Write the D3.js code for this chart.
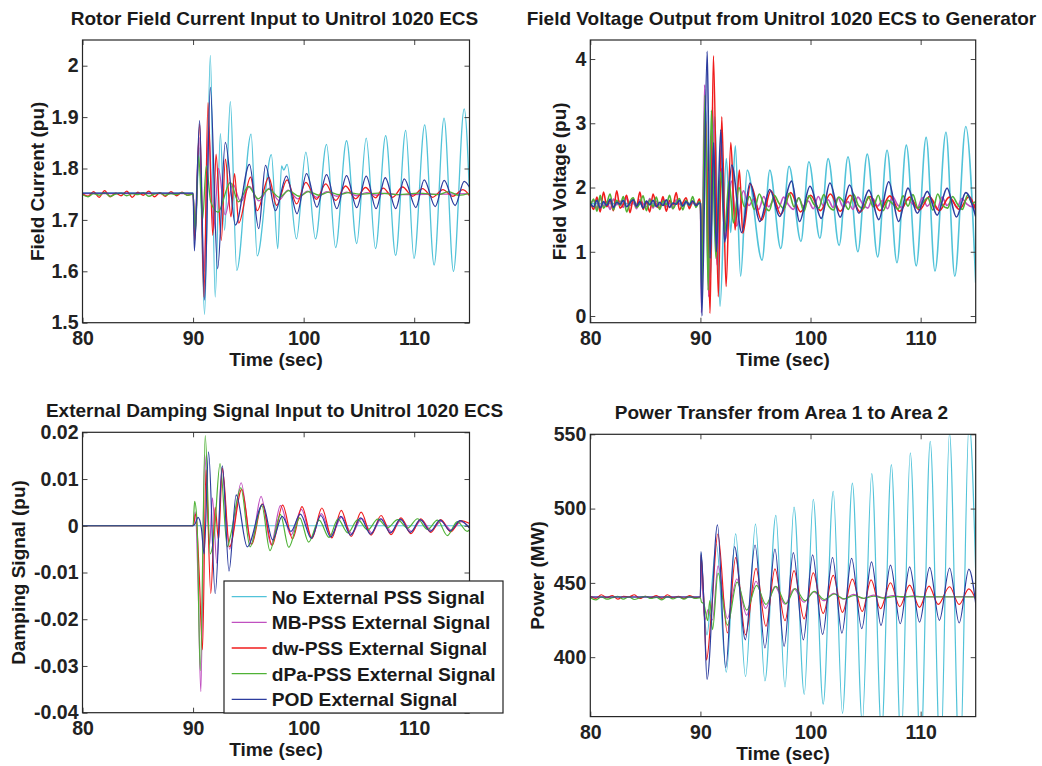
<!DOCTYPE html>
<html>
<head>
<meta charset="utf-8">
<script src="https://cdn.jsdelivr.net/npm/d3@7"></script>
<style>
  body { margin: 0; background: #fff; }
  svg { font-family: "Liberation Sans", Arial, sans-serif; font-weight: bold; }
  .tick text { fill: #222; }
</style>
</head>
<body>
<svg width="1042" height="766"></svg>
<script>
// ---------- data ----------
var seriesNames = ["No External PSS Signal", "MB-PSS External Signal", "dw-PSS External Signal",
                   "dPa-PSS External Signal", "POD External Signal"];
var seriesColors = ["#52c3d9", "#c050c0", "#f01c1c", "#4fb236", "#2c3c9e"];
var xTicks = [80, 90, 100, 110];
var ifdTicks = [1.5, 1.6, 1.7, 1.8, 1.9, 2];
var vfdTicks = [0, 1, 2, 3, 4];
var dampTicks = [-0.04, -0.03, -0.02, -0.01, 0, 0.01, 0.02];
var powTicks = [400, 450, 500, 550];

// small pre-fault ripples, one value every `step` seconds from t0
function ripple(t0, step, vals) { return vals.map(function(v, i) { return [t0 + i * step, v]; }); }

// --- rotor field current (pu)
var ifdRedPre = [1.751,1.746,1.755,1.744,1.757,1.745,1.752,1.747,1.756,1.744,1.754,1.748,1.756,1.745,1.753,1.746,1.755,1.747,1.754,1.748];
var ifdGreenPre = [1.749,1.745,1.751,1.748,1.753,1.746,1.75,1.752,1.747,1.751,1.749,1.753,1.746,1.75,1.752,1.748,1.751,1.749,1.753,1.748];
var ifdNoPss = [[80,1.752],[90,1.752],[90.2,1.67],[90.55,1.84],[91.04,1.516],[91.56,2.02],[92.0,1.55],[92.47,1.868],[92.85,1.68],[93.37,1.93],[93.95,1.602],[95.25,1.867],[95.8,1.63],[97.08,1.827],[97.66,1.644],[98.0,1.805],[98.2,1.797],[98.5,1.808],[99.35,1.663],[100.2,1.832],[101.07,1.663],[102.07,1.847],[102.89,1.646],[103.88,1.854],[104.8,1.654],[105.66,1.859],[106.5,1.644],[107.42,1.864],[108.32,1.631],[109.23,1.874],[109.98,1.625],[110.95,1.885],[111.8,1.612],[112.7,1.898],[113.55,1.6],[114.52,1.916],[115.1,1.69]];
var ifdMb = [[80,1.751],[90,1.751],[90.15,1.69],[90.55,1.86],[91.0,1.6],[91.4,1.88],[91.85,1.68],[92.3,1.8],[92.9,1.71],[93.6,1.77],[94.3,1.735],[95.1,1.765],[95.95,1.737],[96.9,1.762],[97.75,1.738],[98.6,1.758],[99.45,1.741],[100.35,1.756],[101.2,1.744],[102.1,1.755],[103.0,1.746],[103.9,1.754],[104.8,1.747],[105.7,1.753],[106.6,1.748],[107.5,1.752],[108.4,1.749],[115.1,1.751]];
var ifdDw = [[90,1.75],[90.15,1.66],[90.6,1.887],[90.98,1.55],[91.35,1.928],[91.78,1.67],[92.08,1.828],[92.55,1.66],[92.92,1.818],[93.43,1.706],[93.75,1.79],[94.13,1.694],[95.2,1.783],[95.8,1.718],[96.85,1.783],[97.55,1.728],[98.5,1.778],[99.36,1.731],[100.2,1.773],[101.15,1.74],[102.0,1.77],[102.9,1.738],[103.8,1.766],[104.7,1.741],[105.6,1.763],[106.5,1.743],[107.2,1.762],[108.05,1.744],[108.95,1.764],[109.85,1.746],[110.75,1.761],[111.66,1.744],[112.6,1.759],[113.47,1.746],[114.4,1.759],[115.1,1.744]];
var ifdDpa = [[90,1.75],[90.2,1.68],[90.5,1.825],[90.85,1.70],[91.2,1.805],[91.6,1.735],[92.25,1.715],[93.37,1.773],[94.1,1.735],[95.0,1.765],[95.9,1.741],[96.85,1.76],[97.8,1.744],[98.65,1.757],[99.6,1.746],[100.45,1.755],[101.4,1.748],[102.3,1.754],[103.2,1.749],[104.1,1.753],[105.0,1.75],[106.8,1.752],[108.6,1.749],[110.4,1.752],[112.2,1.749],[113.1,1.755],[114.0,1.748],[115.1,1.752]];
var ifdPod = [[80,1.752],[90,1.752],[90.12,1.64],[90.59,1.893],[91.04,1.544],[91.56,1.958],[92.22,1.605],[92.92,1.851],[93.83,1.69],[95.1,1.808],[95.94,1.683],[96.55,1.806],[97.45,1.718],[98.45,1.785],[99.4,1.712],[100.26,1.79],[101.2,1.725],[102.07,1.788],[103.0,1.722],[103.88,1.786],[104.8,1.724],[105.66,1.785],[106.55,1.722],[107.38,1.782],[108.33,1.722],[109.1,1.78],[110.15,1.724],[110.9,1.778],[111.9,1.726],[112.71,1.777],[113.7,1.728],[114.52,1.775],[115.1,1.76]];

// --- field voltage (pu)
var vfdRedPre = [1.78,1.66,1.85,1.62,1.93,1.70,1.80,1.64,1.95,1.68,1.74,1.88,1.61,1.82,1.70,1.93,1.66,1.78,1.62,1.90,1.72,1.68,1.86,1.63,1.80,1.73,1.92,1.65,1.76,1.84,1.67,1.79,1.71,1.82];
var vfdGreenPre = [1.70,1.82,1.63,1.88,1.68,1.76,1.90,1.65,1.80,1.72,1.86,1.62,1.78,1.84,1.69,1.75,1.87,1.64,1.81,1.70,1.85,1.66,1.79,1.73,1.88,1.67,1.76,1.83,1.65,1.80,1.72,1.86,1.69,1.78];
var vfdBluePre = [1.76,1.70,1.80,1.68,1.78,1.72,1.82,1.69,1.77,1.74,1.80,1.70,1.76,1.81,1.71,1.78,1.68,1.79,1.73,1.80,1.70,1.77,1.72,1.81,1.69,1.76,1.74,1.80,1.71,1.78,1.73,1.79,1.72,1.76];
var vfdMbPre = [1.74,1.80,1.68,1.83,1.71,1.78,1.66,1.82,1.73,1.79,1.69,1.84,1.72,1.77,1.67,1.81,1.74,1.70,1.83,1.68,1.79,1.73,1.82,1.70,1.76,1.67,1.81,1.75,1.71,1.80,1.69,1.78,1.74,1.77];
var vfdGreenBand = [1.70,1.86,1.66,1.90,1.72,1.64,1.88,1.75,1.67,1.91,1.70,1.84,1.63,1.87,1.74,1.68,1.89,1.71,1.65,1.85,1.78,1.66,1.90,1.72,1.67,1.86,1.70,1.88,1.64,1.80,1.74,1.66,1.87,1.71,1.89,1.68,1.76,1.84,1.65,1.90,1.72,1.68,1.86,1.74,1.66,1.88,1.75];
var vfdMbBand = [1.72,1.82,1.66,1.86,1.70,1.80,1.68,1.85,1.73,1.66,1.84,1.71,1.79,1.67,1.86,1.72,1.81,1.69,1.84,1.70,1.78,1.66,1.85,1.74,1.68,1.83,1.71,1.80,1.67,1.86,1.73,1.69,1.82,1.75,1.68,1.84,1.71,1.79,1.66,1.85,1.72,1.80,1.69,1.83,1.74,1.70];
var vfdNoPss = [[80,1.75],[90,1.75],[90.15,0.9],[90.45,3.3],[90.9,0.6],[91.3,3.1],[91.78,0.15],[92.35,2.45],[92.75,1.3],[93.17,2.65],[93.65,0.62],[94.25,2.27],[95.6,0.87],[96.3,2.27],[97.3,1.05],[98.05,2.33],[99.13,1.16],[99.85,2.4],[100.85,1.21],[101.6,2.45],[102.6,1.1],[103.4,2.48],[104.3,1.0],[105.15,2.52],[106.1,0.92],[106.95,2.58],[107.85,0.83],[108.7,2.66],[109.6,0.78],[110.5,2.78],[111.3,0.7],[112.3,2.86],[113.1,0.62],[114.1,2.95],[115.0,0.52]];
var vfdMb = [[90,1.75],[90.1,0.05],[90.38,3.6],[90.75,0.3],[91.1,3.25],[91.5,0.8],[91.9,2.3],[92.3,1.2],[92.8,2.1],[93.3,1.4],[93.9,1.95]];
var vfdDw = [[90,1.75],[90.15,0.8],[90.45,3.1],[90.88,0.04],[91.18,4.05],[91.63,0.3],[91.94,3.1],[92.33,0.46],[92.76,2.7],[93.15,1.34],[93.54,2.27],[93.85,1.29],[94.55,2.05],[95.56,1.49],[96.4,1.95],[97.3,1.58],[98.2,1.92],[99.1,1.62],[100.0,1.88],[100.9,1.64],[101.8,1.9],[102.7,1.63],[103.6,1.88],[104.5,1.62],[105.4,1.86],[106.3,1.64],[107.2,1.87],[108.1,1.63],[109.0,1.85],[109.9,1.65],[110.8,1.86],[111.7,1.64],[112.6,1.85],[113.5,1.66],[114.4,1.86],[115.0,1.65]];
var vfdDpa = [[90,1.75],[90.12,0.3],[90.42,3.44],[90.7,0.4],[91.0,3.2],[91.4,0.9],[91.85,2.25],[92.2,1.3],[92.6,2.1],[93.0,1.45],[93.5,2.0]];
var vfdPod = [[90,1.75],[90.13,0.0],[90.62,4.12],[90.88,0.9],[91.2,2.7],[91.45,1.0],[91.85,2.9],[92.2,1.15],[92.85,2.35],[93.75,1.3],[94.5,2.07],[95.4,1.47],[96.3,1.97],[97.2,1.55],[98.28,2.1],[99.0,1.47],[99.95,2.02],[100.98,1.52],[101.76,2.07],[102.7,1.54],[103.55,2.04],[104.4,1.6],[105.3,1.96],[106.2,1.5],[107.1,2.09],[108.0,1.47],[108.85,1.99],[109.7,1.6],[110.6,1.94],[111.5,1.57],[112.4,1.99],[113.25,1.54],[114.1,1.92],[115.0,1.55]];

// --- external damping signal (pu)
var dampNoPss = [[80,0],[115.1,0]];
var dampMb = [[80,0],[90,0],[90.2,0.003],[90.45,-0.012],[90.7,-0.0355],[91.05,0.0152],[91.5,-0.004],[91.75,0.006],[92.15,-0.008],[92.6,0.0125],[93.3,-0.005],[94.35,0.0092],[95.25,-0.004],[96.15,0.0063],[97.05,-0.004],[97.9,0.0043],[98.85,-0.002],[99.8,0.0035],[100.7,-0.0025],[101.6,0.0026],[102.5,-0.002],[103.45,0.0019],[104.35,-0.0017],[105.25,0.0016],[106.15,-0.0015],[107.05,0.0015],[107.95,-0.0013],[108.85,0.0013],[109.75,-0.0012],[110.65,0.0012],[111.55,-0.001],[112.45,0.001],[113.35,-0.0009],[114.25,0.0009],[115.1,-0.0006]];
var dampDw = [[80,0],[90,0],[90.25,0.0025],[90.55,-0.01],[90.85,-0.0265],[91.17,0.012],[91.6,-0.0145],[92.0,0.004],[92.3,-0.003],[92.65,0.0123],[93.3,-0.0045],[94.4,0.0078],[95.3,-0.004],[96.25,0.0047],[97.15,-0.0042],[98.1,0.0044],[99.0,-0.0028],[99.85,0.0041],[100.75,-0.0027],[101.65,0.0038],[102.55,-0.0026],[103.4,0.0033],[104.3,-0.0023],[105.2,0.0029],[106.1,-0.002],[107.0,0.0022],[107.9,-0.0019],[108.8,0.0017],[109.7,-0.0017],[110.6,0.0015],[111.5,-0.0014],[112.4,0.0013],[113.3,-0.0013],[114.2,0.0011],[115.1,0.0004]];
var dampDpa = [[80,0],[90,0],[90.14,0.0052],[90.35,0.001],[90.65,-0.031],[91.1,0.0193],[91.55,-0.006],[91.9,-0.002],[92.44,0.0133],[93.1,-0.0045],[93.4,-0.002],[94.32,0.0081],[95.16,-0.0045],[96.22,0.0043],[96.95,-0.0053],[97.9,0.0024],[98.65,-0.0046],[99.65,0.0017],[100.45,-0.0035],[101.4,0.0012],[102.3,-0.0025],[103.1,0.0014],[104.0,-0.0015],[104.9,0.0013],[105.8,-0.0009],[106.7,0.0014],[107.6,-0.0004],[108.5,0.0013],[109.4,-0.0005],[110.3,0.0015],[111.2,-0.0008],[112.1,0.0012],[113.0,-0.0021],[113.9,0.0009],[114.8,-0.0012],[115.1,-0.0006]];
var dampPod = [[80,0],[90,0],[90.2,0.0005],[90.45,0.0018],[90.75,-0.0005],[91.0,-0.006],[91.4,0.0158],[92.0,-0.0145],[92.65,0.0128],[93.25,-0.0097],[93.9,0.0066],[94.9,-0.0045],[96.3,0.0046],[97.2,-0.003],[98.05,0.002],[98.85,-0.0012],[99.7,0.0025],[100.7,-0.0027],[101.55,0.0022],[102.45,-0.0024],[103.35,0.002],[104.25,-0.002],[105.15,0.0017],[106.05,-0.0018],[106.95,0.0015],[107.85,-0.0015],[108.75,0.0014],[109.65,-0.0014],[110.55,0.0013],[111.45,-0.0012],[112.35,0.0012],[113.25,-0.0011],[114.15,0.0011],[115.1,-0.0008]];

// --- power transfer area 1 -> area 2 (MW)
var powRedPre = [441,439.5,442,440,441.5,439,441,440.5,442,439.5,441,440,441.5,439.5,442,440,441,439.5,441.5,440];
var powGreenPre = [440,438.5,440.5,439,440,441,439,440.5,438.8,440,441,439.5,440.2,438.6,440.8,439.2,440.5,439,440.7,439.6];
var powNoPss = [[80,440.5],[90,440.5],[90.05,470],[90.35,430],[90.6,415],[91.0,445],[91.45,476],[92.35,390],[93.2,483],[94.1,387],[95.0,489.5],[95.86,384],[96.85,495.5],[97.68,380],[98.5,501],[99.43,375],[100.25,506.3],[101.15,368.4],[102.06,511.6],[102.9,362.2],[103.8,517.2],[104.7,356],[105.56,523.5],[106.45,349],[107.34,529.6],[108.22,342],[109.06,537.5],[110.0,335],[110.87,545.3],[111.8,328],[112.62,551],[113.55,320],[114.4,558],[115.1,430]];
var powMb = [[80,440.5],[90,440.5],[90.05,462],[90.4,425],[90.7,432],[91.1,425],[91.6,461.5],[92.45,426],[93.3,452.6],[94.2,428.3],[95.05,451.1],[95.92,432.9],[96.77,447.7],[97.68,435.6],[98.5,445.9],[99.4,437],[100.3,444],[101.2,438],[102.1,443],[103.0,439],[103.9,442.3],[104.8,439.5],[105.7,441.8],[106.6,440],[107.5,441.5],[108.4,440.3],[109.3,441.3],[110.2,440.5],[115.1,440.8]];
var powDw = [[90,440.5],[90.05,468.7],[90.3,440],[90.55,398],[91.0,430],[91.58,482.9],[92.45,416.3],[93.2,467],[94.1,415],[95.05,459.8],[95.95,420.8],[96.77,459.4],[97.68,424.6],[98.5,458.3],[99.41,425.8],[100.25,456.8],[101.15,429.5],[102.06,455.1],[102.9,430.2],[103.8,452.5],[104.7,430.8],[105.5,452],[106.35,432.6],[107.26,450.1],[108.1,434],[109.0,448.5],[109.9,433.5],[110.76,447.8],[111.6,435.5],[112.63,447.4],[113.5,435.5],[114.38,446],[115.1,437]];
var powDpa = [[90,440],[90.1,437],[90.3,436],[90.66,424.6],[90.85,438],[91.1,418.6],[91.6,456.5],[92.45,421.6],[93.33,450.5],[94.2,431.6],[95.1,448.3],[95.95,435.5],[96.86,447.7],[97.77,435.9],[98.6,446.1],[99.5,438],[100.35,444.3],[101.25,438.8],[102.15,442.5],[103.05,439.3],[103.95,441.5],[104.85,439.6],[105.75,441],[106.65,439.8],[107.55,440.7],[115.1,440.5]];
var powPod = [[80,440.5],[90,440.5],[90.05,471],[90.3,440],[90.6,385],[91.55,489],[92.3,393],[93.1,474.5],[94.08,411.7],[94.96,475.5],[95.86,406.3],[96.77,472.7],[97.6,407.2],[98.44,470.4],[99.35,411.7],[100.19,468.8],[101.1,415.3],[102.0,467],[102.85,416.2],[103.73,466.5],[104.65,419.2],[105.54,464.2],[106.4,421.4],[107.26,461.9],[108.15,422.5],[109.0,460.8],[109.9,423.6],[110.82,460.5],[111.7,424.8],[112.63,460],[113.5,423],[114.38,459.3],[115.1,430]];

// ---------- panels ----------
var svg = d3.select("svg");

var panels = [
  { title: "Rotor Field Current Input to Unitrol 1020 ECS", ylabel: "Field Current (pu)",
    x0: 82.5, x1: 469.5, y0: 40, y1: 322.7, ydom: [1.5, 2.05], yticks: ifdTicks, ylabOff: -39, titleY: 25,
    fmt: function(d) { return String(+d.toFixed(1)); }, sw: 1.3,
    series: [ifdNoPss, ifdMb,
             ripple(80, 0.5, ifdRedPre).concat(ifdDw),
             ripple(80, 0.5, ifdGreenPre).concat(ifdDpa), ifdPod] },
  { title: "Field Voltage Output from Unitrol 1020 ECS to Generator", ylabel: "Field Voltage (pu)",
    x0: 590.3, x1: 975.7, y0: 40, y1: 322.7, ydom: [-0.104, 4.296], yticks: vfdTicks, ylabOff: -24, titleY: 25,
    fmt: function(d) { return String(d); }, sw: 1.6,
    series: [vfdNoPss,
             ripple(80, 0.3, vfdMbPre).concat(vfdMb, ripple(94.4, 0.45, vfdMbBand), [[115.1, 1.76]]),
             ripple(80, 0.3, vfdRedPre).concat(vfdDw),
             ripple(80, 0.3, vfdGreenPre).concat(vfdDpa, ripple(94.0, 0.45, vfdGreenBand), [[115.1, 1.8]]),
             ripple(80, 0.3, vfdBluePre).concat(vfdPod)] },
  { title: "External Damping Signal Input to Unitrol 1020 ECS", ylabel: "Damping Signal (pu)",
    x0: 82.5, x1: 469.5, y0: 432.3, y1: 712.7, ydom: [-0.04, 0.02], yticks: dampTicks, ylabOff: -57.5, titleY: 417.3,
    fmt: function(d) { return String(+d.toFixed(2)); }, sw: 1.2,
    series: [dampNoPss, dampMb, dampDw, dampDpa, dampPod], legend: true },
  { title: "Power Transfer from Area 1 to Area 2", ylabel: "Power (MW)",
    x0: 590.3, x1: 975.7, y0: 434.3, y1: 716.6, ydom: [360, 550], yticks: powTicks, ylabOff: -46.5, titleY: 419.3,
    fmt: function(d) { return String(d); }, sw: 1.2,
    series: [powNoPss, powMb,
             ripple(80, 0.5, powRedPre).concat(powDw),
             ripple(80, 0.5, powGreenPre).concat(powDpa), powPod] }
];

panels.forEach(function(p, k) {
  var x = d3.scaleLinear().domain([80, 115]).range([p.x0, p.x1]);
  var y = d3.scaleLinear().domain(p.ydom).range([p.y1, p.y0]);
  var w = p.x1 - p.x0, h = p.y1 - p.y0;

  svg.append("clipPath").attr("id", "clip" + k)
     .append("rect").attr("x", p.x0).attr("y", p.y0).attr("width", w).attr("height", h);

  var line = d3.line()
      .x(function(d) { return x(d[0]); })
      .y(function(d) { return y(d[1]); })
      .curve(d3.curveMonotoneX);

  var g = svg.append("g").attr("clip-path", "url(#clip" + k + ")");
  p.series.forEach(function(s, i) {
    g.append("path")
     .datum(s)
     .attr("fill", "none")
     .attr("stroke", seriesColors[i])
     .attr("stroke-width", p.sw)
     .attr("stroke-linejoin", "round")
     .attr("d", line);
  });

  // axes, MATLAB style: ticks inward on all four sides
  svg.append("g")
     .attr("transform", "translate(0," + p.y1 + ")")
     .call(d3.axisBottom(x).tickValues(xTicks).tickSize(-5).tickSizeOuter(0).tickPadding(8.5))
     .attr("font-size", 19.5).attr("font-family", null);
  svg.append("g")
     .attr("transform", "translate(0," + p.y0 + ")")
     .call(d3.axisTop(x).tickValues(xTicks).tickSize(-5).tickSizeOuter(0).tickFormat(""));
  svg.append("g")
     .attr("transform", "translate(" + p.x0 + ",0)")
     .call(d3.axisLeft(y).tickValues(p.yticks).tickSize(-5).tickSizeOuter(0).tickPadding(4).tickFormat(p.fmt))
     .attr("font-size", 19.5).attr("font-family", null);
  svg.append("g")
     .attr("transform", "translate(" + p.x1 + ",0)")
     .call(d3.axisRight(y).tickValues(p.yticks).tickSize(-5).tickSizeOuter(0).tickFormat(""));

  svg.selectAll(".domain").remove();
  svg.selectAll(".tick line").attr("stroke", "#444");

  svg.append("rect")
     .attr("x", p.x0).attr("y", p.y0).attr("width", w).attr("height", h)
     .attr("fill", "none").attr("stroke", "#262626").attr("stroke-width", 1.2);

  svg.append("text")
     .attr("x", (p.x0 + p.x1) / 2 - 1.5).attr("y", p.titleY)
     .attr("text-anchor", "middle").attr("font-size", 19).attr("fill", "#1a1a1a")
     .text(p.title);

  svg.append("text")
     .attr("x", (p.x0 + p.x1) / 2).attr("y", p.y1 + 43.5)
     .attr("text-anchor", "middle").attr("font-size", 19).attr("fill", "#1a1a1a")
     .text("Time (sec)");

  svg.append("text")
     .attr("transform", "translate(" + (p.x0 + p.ylabOff) + "," + ((p.y0 + p.y1) / 2) + ") rotate(-90)")
     .attr("text-anchor", "middle").attr("font-size", 19).attr("fill", "#1a1a1a")
     .text(p.ylabel);

  if (p.legend) {
    var lg = svg.append("g");
    lg.append("rect")
      .attr("x", 224).attr("y", 581).attr("width", 279).attr("height", 132)
      .attr("fill", "#fff").attr("stroke", "#222").attr("stroke-width", 1.2);
    seriesNames.forEach(function(name, i) {
      var yy = 596.7 + i * 25.65;
      lg.append("line")
        .attr("x1", 231.7).attr("x2", 266.7).attr("y1", yy).attr("y2", yy)
        .attr("stroke", seriesColors[i]).attr("stroke-width", 1.3);
      lg.append("text")
        .attr("x", 271.7).attr("y", yy).attr("dy", "0.36em")
        .attr("font-size", 19.2).attr("fill", "#1a1a1a")
        .text(name);
    });
  }
});
</script>
</body>
</html>
